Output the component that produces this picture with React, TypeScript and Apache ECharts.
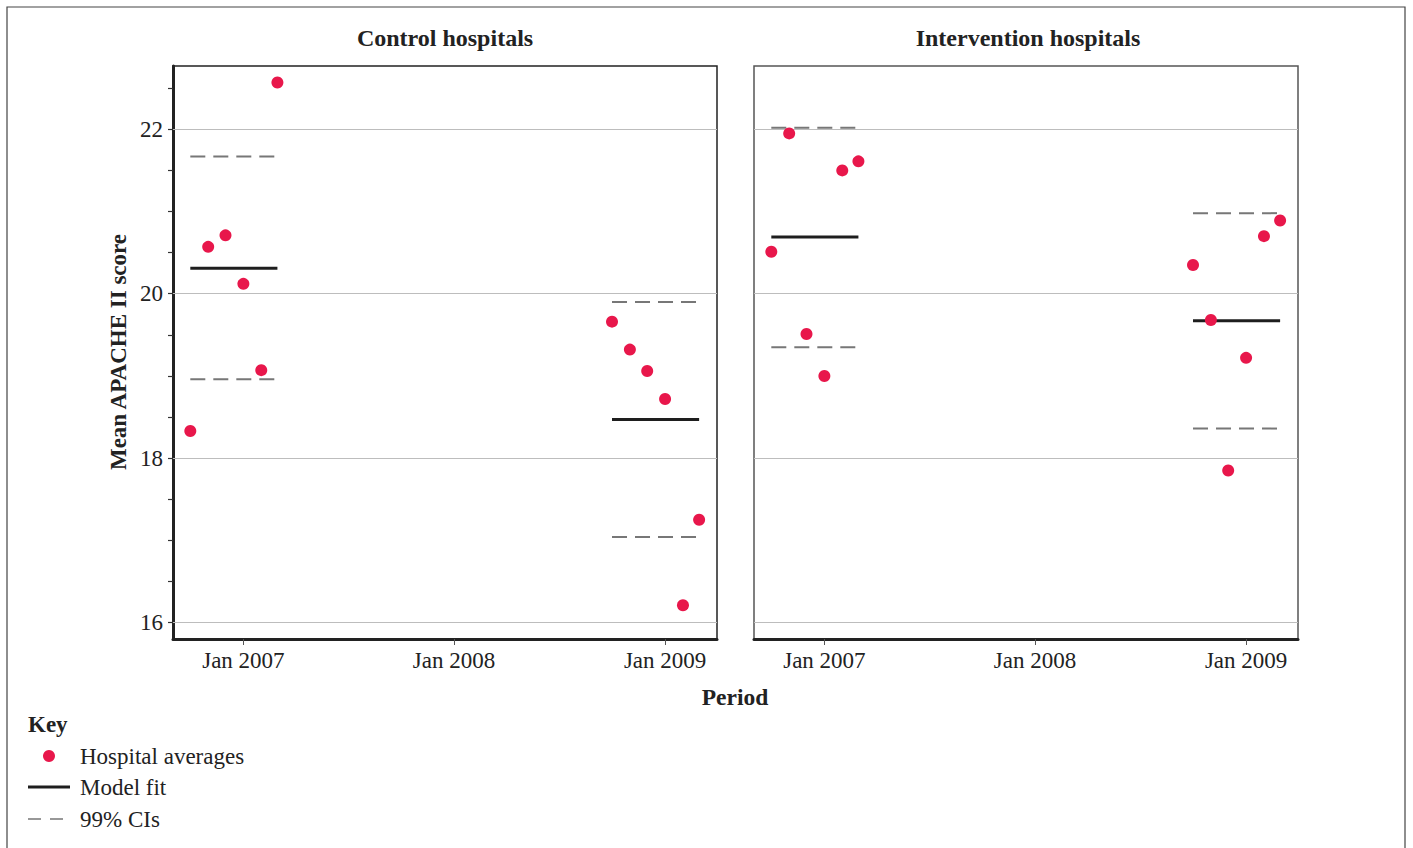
import React, { useEffect, useRef } from "react";
import * as echarts from "echarts";

// ---- data ----
const monthsBefore = ["2006-10-01", "2006-11-01", "2006-12-01", "2007-01-01", "2007-02-01", "2007-03-01"];
const monthsAfter = ["2008-10-01", "2008-11-01", "2008-12-01", "2009-01-01", "2009-02-01", "2009-03-01"];

const controlBefore = [18.33, 20.57, 20.71, 20.12, 19.07, 22.57];
const controlAfter = [19.66, 19.32, 19.06, 18.72, 16.21, 17.25];
const interventionBefore = [20.51, 21.95, 19.51, 19.0, 21.5, 21.61];
const interventionAfter = [20.35, 19.68, 17.85, 19.22, 20.7, 20.89];

// [before, after]
const controlFit = [20.31, 18.47];
const controlLower = [18.96, 17.04];
const controlUpper = [21.67, 19.9];
const interventionFit = [20.69, 19.67];
const interventionLower = [19.35, 18.36];
const interventionUpper = [22.02, 20.98];

const xTickDates = ["2007-01-01", "2008-01-01", "2009-01-01"];
const yTickValues = [16, 16.5, 17, 17.5, 18, 18.5, 19, 19.5, 20, 20.5, 21, 21.5, 22, 22.5];
const yLabelValues = [16, 18, 20, 22];
const panelTitles = ["Control hospitals", "Intervention hospitals"];

const xMin = "2006-09-01";
const xMax = "2009-04-01";
const yMin = 15.8;
const yMax = 22.77;

const FONT = '"Liberation Serif", "Times New Roman", serif';
const RED = "#e8174b";

const ts = (d: string) => Date.parse(d);

export default function App() {
  const ref = useRef<HTMLDivElement>(null);

  useEffect(() => {
    if (!ref.current) return;
    const chart = echarts.init(ref.current, undefined, { renderer: "svg" });

    const panels = [
      { before: controlBefore, after: controlAfter, fit: controlFit, lo: controlLower, hi: controlUpper },
      { before: interventionBefore, after: interventionAfter, fit: interventionFit, lo: interventionLower, hi: interventionUpper },
    ];

    const series: any[] = [];
    panels.forEach((p, gi) => {
      const periods = [monthsBefore, monthsAfter];
      periods.forEach((months, pi) => {
        const a = ts(months[0]);
        const b = ts(months[months.length - 1]);
        [p.lo[pi], p.hi[pi]].forEach((v, ci) => {
          const s: any = {
            type: "line",
            xAxisIndex: gi,
            yAxisIndex: gi,
            data: [[a, v], [b, v]],
            symbol: "none",
            silent: true,
            z: 1,
            lineStyle: { color: "#777", width: 2, type: [15, 8] },
          };
          if (pi === 0 && ci === 0) {
            s.markLine = {
              silent: true,
              symbol: "none",
              label: { show: false },
              lineStyle: { color: "#bdbdbd", width: 1.2, type: "solid" },
              data: yLabelValues.map((y) => ({ yAxis: y })),
            };
          }
          series.push(s);
        });
        series.push({
          type: "line",
          xAxisIndex: gi,
          yAxisIndex: gi,
          data: [[a, p.fit[pi]], [b, p.fit[pi]]],
          symbol: "none",
          silent: true,
          z: 3,
          lineStyle: { color: "#1e1e1e", width: 3, type: "solid" },
        });
      });
      series.push({
        type: "scatter",
        xAxisIndex: gi,
        yAxisIndex: gi,
        symbolSize: 12,
        z: 5,
        itemStyle: { color: RED, opacity: 1 },
        data: [
          ...monthsBefore.map((m, i) => [ts(m), p.before[i]]),
          ...monthsAfter.map((m, i) => [ts(m), p.after[i]]),
        ],
      });
    });

    const xAxisCommon = (gi: number) => ({
      type: "value",
      gridIndex: gi,
      min: ts(xMin),
      max: ts(xMax),
      axisLine: { show: true, onZero: false, lineStyle: { color: "#222", width: 3 } },
      axisTick: {
        show: true,
        customValues: xTickDates.map(ts),
        length: 6,
        lineStyle: { color: "#555", width: 1 },
      },
      axisLabel: {
        show: true,
        customValues: xTickDates.map(ts),
        formatter: (v: number) => "Jan " + new Date(v).getUTCFullYear(),
        fontFamily: FONT,
        fontSize: 23,
        color: "#222",
        margin: 10,
      },
      splitLine: { show: false },
    });

    const yAxisCommon = (gi: number) => ({
      type: "value",
      gridIndex: gi,
      min: yMin,
      max: yMax,
      axisLine: { show: gi === 0, onZero: false, lineStyle: { color: "#222", width: 3 } },
      axisTick: {
        show: gi === 0,
        customValues: yTickValues,
        length: 5,
        lineStyle: { color: "#333", width: 1.2 },
      },
      axisLabel: {
        show: gi === 0,
        customValues: yLabelValues,
        fontFamily: FONT,
        fontSize: 23,
        color: "#222",
        margin: 10,
      },
      splitLine: { show: false },
    });

    const txt = (text: string, x: number, y: number, size: number, bold: boolean, align = "center", rotation = 0) => ({
      type: "text",
      x,
      y,
      rotation,
      silent: true,
      style: {
        text,
        fill: "#222",
        fontFamily: FONT,
        fontSize: size,
        fontWeight: bold ? "bold" : "normal",
        align,
        verticalAlign: "middle",
      },
    });

    chart.setOption({
      animation: false,
      backgroundColor: "#fff",
      grid: [
        { left: 173, right: 696, top: 66, bottom: 209, show: true, borderColor: "#222", borderWidth: 1.5, backgroundColor: "transparent" },
        { left: 754, right: 115, top: 66, bottom: 209, show: true, borderColor: "#555", borderWidth: 1.5, backgroundColor: "transparent" },
      ],
      xAxis: [xAxisCommon(0), xAxisCommon(1)],
      yAxis: [yAxisCommon(0), yAxisCommon(1)],
      series,
      graphic: [
        {
          type: "rect",
          silent: true,
          shape: { x: 7, y: 7, width: 1398, height: 880 },
          style: { fill: "none", stroke: "#444", lineWidth: 1.2 },
        },
        txt(panelTitles[0], 445, 38, 24, true),
        txt(panelTitles[1], 1028, 38, 24, true),
        txt("Mean APACHE II score", 118, 352, 23, true, "center", Math.PI / 2),
        txt("Period", 735, 697, 23.5, true),
        txt("Key", 28, 724, 23, true, "left"),
        { type: "circle", silent: true, shape: { cx: 49, cy: 756, r: 6 }, style: { fill: RED } },
        txt("Hospital averages", 80, 756, 23, false, "left"),
        { type: "line", silent: true, shape: { x1: 28, y1: 787, x2: 70, y2: 787 }, style: { stroke: "#1e1e1e", lineWidth: 3 } },
        txt("Model fit", 80, 787, 23, false, "left"),
        { type: "line", silent: true, shape: { x1: 28, y1: 819, x2: 70, y2: 819 }, style: { stroke: "#777", lineWidth: 1.5, lineDash: [13, 9] } },
        txt("99% CIs", 80, 819, 23, false, "left"),
      ],
    });

    return () => chart.dispose();
  }, []);

  return (
    <div
      ref={ref}
      style={{ position: "fixed", left: 0, top: 0, width: 1413, height: 848, background: "#fff" }}
    />
  );
}
